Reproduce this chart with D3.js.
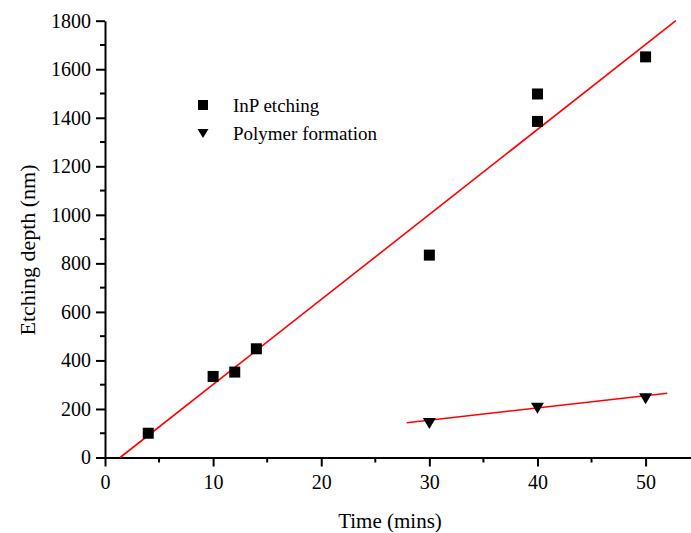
<!DOCTYPE html>
<html><head><meta charset="utf-8">
<script src="https://cdn.jsdelivr.net/npm/d3@7"></script>
<style>body{margin:0;background:#fff}svg{display:block}</style>
</head><body>
<svg id="c" width="691" height="533"></svg>
<script>
const inpTime = [4, 10, 12, 14, 30, 40, 40, 50];
const inpDepth = [100, 334, 352, 448, 834, 1385, 1498, 1651];
const polyTime = [30, 40, 50];
const polyDepth = [142, 205, 244];
const inpFitX = [1.4, 52.8];
const inpFitY = [0, 1800];
const polyFitX = [27.9, 52.0];
const polyFitY = [143, 265];
const xTicks = [0, 10, 20, 30, 40, 50];
const yTicks = [0, 200, 400, 600, 800, 1000, 1200, 1400, 1600, 1800];
const legendLabels = ["InP etching", "Polymer formation"];

const FONT = "'Liberation Serif','Times New Roman','DejaVu Serif',serif";
const svg = d3.select("#c");
const x = d3.scaleLinear().domain([0, 54.2]).range([105, 691]);
const y = d3.scaleLinear().domain([0, 1800]).range([457.5, 20.7]);

// minor ticks
const xMinor = d3.range(5, 55, 10);
const yMinor = d3.range(100, 1800, 200);
svg.append("g").selectAll("line").data(xMinor).join("line")
  .attr("x1", d => x(d)).attr("x2", d => x(d)).attr("y1", y(0)).attr("y2", y(0) + 5)
  .attr("stroke", "#000").attr("stroke-width", 2);
svg.append("g").selectAll("line").data(yMinor).join("line")
  .attr("y1", d => y(d)).attr("y2", d => y(d)).attr("x1", x(0)).attr("x2", x(0) - 5)
  .attr("stroke", "#000").attr("stroke-width", 2);

const xAxis = svg.append("g").attr("transform", `translate(0,${y(0)})`)
  .call(d3.axisBottom(x).tickValues(xTicks).tickFormat(d3.format("d")).tickSize(9).tickSizeOuter(0).tickPadding(8));
const yAxis = svg.append("g").attr("transform", `translate(${x(0)},0)`)
  .call(d3.axisLeft(y).tickValues(yTicks).tickFormat(d3.format("d")).tickSize(9).tickSizeOuter(0).tickPadding(5));
[xAxis, yAxis].forEach(a => {
  a.attr("font-family", FONT);
  a.select(".domain").attr("stroke", "#000").attr("stroke-width", 2);
  a.selectAll(".tick line").attr("stroke", "#000").attr("stroke-width", 2);
  a.selectAll("text").attr("font-size", 20).attr("fill", "#000").style("font-family", FONT);
});

// fit lines
const lineGen = d3.line().x(d => x(d[0])).y(d => y(d[1]));
svg.append("path").datum(d3.zip(inpFitX, inpFitY)).attr("d", lineGen)
  .attr("stroke", "#ff0000").attr("stroke-width", 1.6).attr("fill", "none");
svg.append("path").datum(d3.zip(polyFitX, polyFitY)).attr("d", lineGen)
  .attr("stroke", "#ff0000").attr("stroke-width", 1.6).attr("fill", "none");

// markers
const sq = 11;
svg.append("g").selectAll("rect").data(d3.zip(inpTime, inpDepth)).join("rect")
  .attr("x", d => x(d[0]) - sq / 2).attr("y", d => y(d[1]) - sq / 2)
  .attr("width", sq).attr("height", sq).attr("fill", "#000");
const tri = "M-6.5,-5 L6.5,-5 L0,6 Z";
svg.append("g").selectAll("path").data(d3.zip(polyTime, polyDepth)).join("path")
  .attr("d", tri).attr("transform", d => `translate(${x(d[0])},${y(d[1])})`).attr("fill", "#000");

// legend
svg.append("rect").attr("x", 198).attr("y", 100).attr("width", 10).attr("height", 10).attr("fill", "#000");
svg.append("path").attr("d", "M-5.5,-4 L5.5,-4 L0,5 Z").attr("transform", "translate(203,133)").attr("fill", "#000");
svg.append("text").attr("x", 233).attr("y", 112).attr("font-size", 19).style("font-family", FONT).text(legendLabels[0]);
svg.append("text").attr("x", 233).attr("y", 140).attr("font-size", 19).style("font-family", FONT).text(legendLabels[1]);

// axis titles
svg.append("text").attr("x", 390).attr("y", 528).attr("text-anchor", "middle").attr("font-size", 21).style("font-family", FONT).text("Time (mins)");
svg.append("text").attr("transform", "translate(35,250) rotate(-90)").attr("text-anchor", "middle")
  .attr("font-size", 22).style("font-family", FONT).text("Etching depth (nm)");
</script>
</body></html>
